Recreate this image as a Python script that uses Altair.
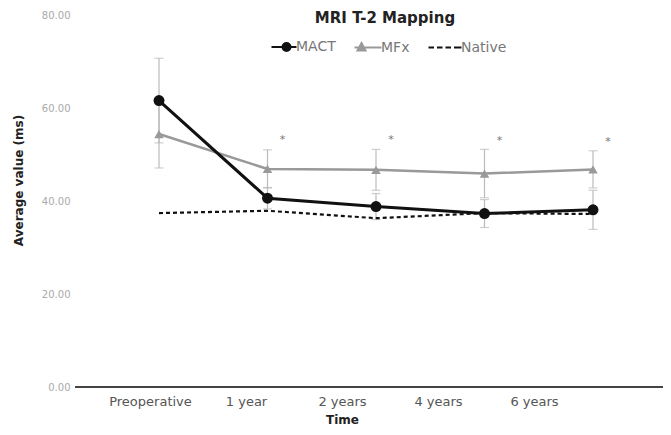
import altair as alt
import pandas as pd

categories = ["Preoperative", "1 year", "2 years", "4 years", "6 years"]
mact = [61.6, 40.6, 38.8, 37.3, 38.1]
mact_err = [9.1, 2.3, 2.8, 3.0, 4.2]
mfx = [54.4, 46.9, 46.7, 45.9, 46.8]
mfx_err = [7.3, 4.1, 4.4, 5.2, 4.0]
native = [37.4, 37.9, 36.3, 37.4, 37.2]
star_times = ["1 year", "2 years", "4 years", "6 years"]
star_y = [53.1, 53.1, 53.0, 52.7]
series_names = ["MACT", "MFx", "Native"]
series_colors = ["#111111", "#999999", "#111111"]
legend_paths = [
    "M-2.5,0H2.5M0.5,-0.8A0.8,0.8,0,1,1,0.5,0.8A0.8,0.8,0,1,1,0.5,-0.8Z",
    "M-2.9,0H2.5M-1.5,-0.9L-0.7,0.6L-2.3,0.6Z",
    "M-4.1,0H-3.0M-2.4,0H-1.3M-0.7,0H0.4M1.0,0H2.5",
]

rows = []
for i, t in enumerate(categories):
    rows.append(dict(time=t, series="MACT", value=mact[i], lo=mact[i] - mact_err[i], hi=mact[i] + mact_err[i]))
    rows.append(dict(time=t, series="MFx", value=mfx[i], lo=mfx[i] - mfx_err[i], hi=mfx[i] + mfx_err[i]))
    rows.append(dict(time=t, series="Native", value=native[i], lo=native[i], hi=native[i]))
df = pd.DataFrame(rows)
stars = pd.DataFrame({"time": star_times, "value": star_y})

W, H = 588, 372
YT = "Average value (ms)"
yscale = alt.Scale(domain=[0, 80], nice=False, zero=True)
yaxis = alt.Axis(values=[0, 20, 40, 60, 80], format=".2f", domain=False, ticks=False,
                 grid=False, labelFont="DejaVu Sans", labelFontSize=10,
                 labelColor="#aaaaaa", labelPadding=5,
                 titleFont="DejaVu Sans", titleFontSize=12, titleFontWeight="bold",
                 titleColor="#222", titleX=-57, titleY=165, titleBaseline="middle",
                 titleAlign="center")

xdata = alt.X("time:N", sort=categories,
              scale=alt.Scale(type="point", domain=categories, range=[84, 518], padding=0),
              axis=None)

def yenc(field):
    return alt.Y(f"{field}:Q", scale=yscale, title=YT, axis=yaxis)

base = alt.Chart(df)

# invisible layer carrying the x axis
axes_layer = base.mark_point(opacity=0).encode(
    x=alt.X("time:N", sort=categories,
            scale=alt.Scale(type="point", domain=categories, range=[75, 459], padding=0),
            axis=alt.Axis(title="Time", domain=False, ticks=False, grid=False,
                          labelFont="DejaVu Sans", labelFontSize=13, labelColor="#555",
                          labelPadding=8, labelAngle=0,
                          titleFont="DejaVu Sans", titleFontSize=12, titleFontWeight="bold",
                          titleColor="#222", titlePadding=6)),
    y=yenc("value"),
)

axis_line = alt.Chart(df).mark_rule(color="#444", strokeWidth=2).encode(
    y=alt.datum(0, scale=yscale, axis=yaxis, title=YT), x=alt.value(0), x2=alt.value(W)
)

err_df = base.transform_filter(alt.datum.series != "Native")
err_rule = err_df.mark_rule(color="#bbbbbb", strokeWidth=1.2).encode(
    x=xdata, y=yenc("lo"), y2="hi:Q"
)
cap_lo = err_df.mark_tick(color="#bbbbbb", thickness=1.2, size=9).encode(x=xdata, y=yenc("lo"))
cap_hi = err_df.mark_tick(color="#bbbbbb", thickness=1.2, size=9).encode(x=xdata, y=yenc("hi"))

mfx_df = base.transform_filter(alt.datum.series == "MFx")
mfx_line = mfx_df.mark_line(color="#999999", strokeWidth=2.5).encode(x=xdata, y=yenc("value"))
mfx_pts = mfx_df.mark_point(shape="triangle-up", filled=True, size=90, color="#999999", opacity=1).encode(
    x=xdata, y=yenc("value"))

nat_df = base.transform_filter(alt.datum.series == "Native")
nat_line = nat_df.mark_line(color="#111111", strokeWidth=2.2, strokeDash=[4, 3]).encode(
    x=xdata, y=yenc("value"))

mact_df = base.transform_filter(alt.datum.series == "MACT")
mact_line = mact_df.mark_line(color="#111111", strokeWidth=3).encode(x=xdata, y=yenc("value"))
mact_pts = mact_df.mark_circle(size=120, color="#111111", opacity=1).encode(x=xdata, y=yenc("value"))

star_layer = alt.Chart(stars).mark_text(text="*", dx=15, fontSize=11, color="#777777",
                                        font="DejaVu Sans").encode(x=xdata, y=yenc("value"))

sc = alt.Scale(domain=series_names, range=series_colors)
legend = alt.Legend(title=None, orient="none", legendX=202, legendY=25, direction="horizontal",
                    labelFont="DejaVu Sans", labelFontSize=14, labelColor="#777",
                    symbolSize=100, symbolStrokeWidth=2, symbolOpacity=1, labelOffset=5,
                    columnPadding=14, padding=0)
legend_layer = base.mark_point(filled=True, opacity=0).encode(
    x=xdata, y=yenc("value"),
    fill=alt.Fill("series:N", scale=sc, legend=legend),
    stroke=alt.Stroke("series:N", scale=sc, legend=legend),
    shape=alt.Shape("series:N", scale=alt.Scale(domain=series_names, range=legend_paths), legend=legend),
)

chart = alt.layer(
    axes_layer, axis_line, err_rule, cap_lo, cap_hi, mfx_line, mfx_pts, nat_line,
    mact_line, mact_pts, star_layer, legend_layer
).resolve_scale(x="independent").properties(
    width=W, height=H,
    title=alt.TitleParams("MRI T-2 Mapping", font="DejaVu Sans", fontSize=15, fontWeight="bold",
                          color="#222", anchor="middle", dx=16, dy=6, offset=-10),
    autosize=alt.AutoSizeParams(type="none"),
    padding={"left": 67, "top": 7, "right": 0, "bottom": 40},
    background="white",
).configure_view(stroke=None)

chart.save("out.html", embed_options={"renderer": "svg", "actions": False})
